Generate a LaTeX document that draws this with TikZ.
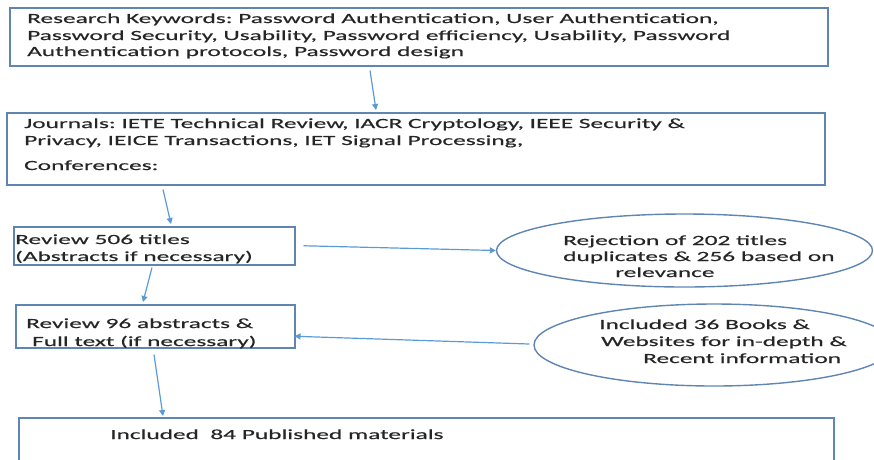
\documentclass[tikz,border=0pt]{standalone}
\usepackage{fontspec}
\setmainfont{Carlito}[FakeStretch=1.81,FakeBold=0.4]
\usetikzlibrary{arrows.meta,shapes.geometric,calc}
\definecolor{boxc}{HTML}{5F85B3}
\definecolor{arrc}{HTML}{5B9BD5}
\definecolor{txtc}{HTML}{262626}
\frenchspacing
\begin{document}
\begin{tikzpicture}[x=1pt,y=-1pt,
  boxst/.style={draw=boxc,line width=1.5pt,inner sep=0pt},
  ellst/.style={draw=boxc,line width=1.4pt,ellipse,inner sep=0pt},
  txt/.style={inner sep=0pt,anchor=base west,text=txtc,font=\fontsize{14}{16.5}\selectfont},
  arr/.style={draw=arrc,line width=1.2pt,-{Triangle[length=6pt,width=6pt]}}]
\useasboundingbox (0,0) rectangle (874,459);
\begin{scope}
\clip (0,0) rectangle (874,459);
% boxes
\node[boxst,minimum width=818pt,minimum height=58pt,anchor=north west] (b1) at (9,7) {};
\node[boxst,minimum width=818pt,minimum height=72pt,anchor=north west] (b2) at (6,112) {};
\node[boxst,minimum width=281pt,minimum height=38pt,anchor=north west] (b3) at (13,226) {};
\node[boxst,minimum width=279pt,minimum height=43pt,anchor=north west] (b4) at (15,304) {};
\node[boxst,minimum width=815pt,minimum height=60pt,anchor=north west] (b5) at (18,417) {};
\node[ellst,minimum width=376pt,minimum height=73pt] (e1) at (684.5,250.5) {};
\node[ellst,minimum width=360pt,minimum height=82pt] (e2) at (714,345) {};
\end{scope}
% texts
\node[txt] (t1a) at (27,23) {Research Keywords: Password Authentication, User Authentication,};
\node[txt] (t1b) at (27,40) {Password Security, Usability, Password efficiency, Usability, Password};
\node[txt] (t1c) at (27,56) {Authentication protocols, Password design};
\node[txt] (t2a) at (24,128) {Journals: IETE Technical Review, IACR Cryptology, IEEE Security \&};
\node[txt] (t2b) at (24,145) {Privacy, IEICE Transactions, IET Signal Processing,};
\node[txt] (t2c) at (24,170) {Conferences:};
\node[txt] (t3a) at (15,244) {Review 506 titles};
\node[txt] (t3b) at (15,261) {(Abstracts if necessary)};
\node[txt] (t4a) at (26,328) {Review 96 abstracts \&};
\node[txt] (t4b) at (32,346) {Full text (if necessary)};
\node[txt] (t5) at (110,439) {Included\ \ 84 Published materials};
\node[txt] (te1a) at (563,245) {Rejection of 202 titles};
\node[txt] (te1b) at (563,261) {duplicates \& 256 based on};
\node[txt] (te1c) at (615,277) {relevance};
\node[txt] (te2a) at (599,329) {Included 36 Books \&};
\node[txt] (te2b) at (601,346) {Websites for in-depth \&};
\node[txt] (te2c) at (643,363) {Recent information};
% arrows
\draw[arr] ($(b1.south west)+(361,4)$) -- ($(b2.north west)+(370,-2)$);
\draw[arr] ($(b2.south west)+(157,4)$) -- ($(b3.north west)+(158,-2)$);
\draw[arr] ($(b3.east)+(8,0)$) -- (e1.west);
\draw[arr] ($(b3.south west)+(139,2)$) -- ($(b4.north west)+(128,-2)$);
\draw[arr] ($(e2.west)+(-4,-1)$) -- ($(b4.east)+(-1,10)$);
\draw[arr] ($(b4.south west)+(139,6)$) -- ($(b5.north west)+(145,-1)$);
\end{tikzpicture}
\end{document}
